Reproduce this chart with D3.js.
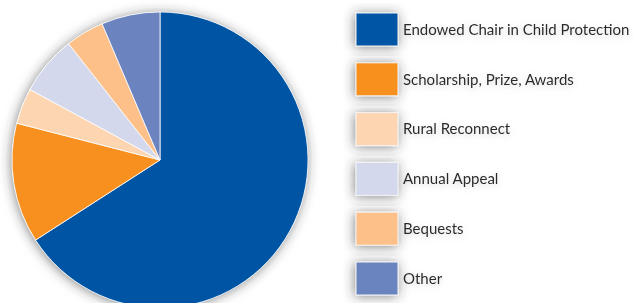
<!DOCTYPE html>
<html>
<head>
<meta charset="utf-8">
<script src="https://cdn.jsdelivr.net/npm/d3@7"></script>
<style>
  body { margin: 0; background: #fff; }
  #chart { width: 634px; height: 303px; }
  .legendLabel { font-family: Lato, "Noto Sans", sans-serif; font-size: 15px; fill: #2b2b2b; }
</style>
</head>
<body>
<div id="chart"></div>
<script>
var categories = ["Endowed Chair in Child Protection", "Scholarship, Prize, Awards", "Rural Reconnect", "Annual Appeal", "Bequests", "Other"];
var values = [65.9, 13.1, 3.9, 6.5, 4.2, 6.4];
var colors = ["#0054a4", "#f7901e", "#fdd5b1", "#d3d8ec", "#fdc088", "#6b84c0"];

var width = 634;
var height = 303;
var radius = 148;

var svg = d3.select("#chart")
    .append("svg")
    .attr("width", width)
    .attr("height", height);

// soft grey shadow used round the pie and the swatches
var defs = svg.append("defs");
var shadow = defs.append("filter")
    .attr("id", "shadow")
    .attr("x", "-30%").attr("y", "-30%")
    .attr("width", "160%").attr("height", "160%");
shadow.append("feDropShadow")
    .attr("dx", -1).attr("dy", 1)
    .attr("stdDeviation", 6)
    .attr("flood-color", "#333")
    .attr("flood-opacity", 0.6);

var textShadow = defs.append("filter")
    .attr("id", "textShadow")
    .attr("x", "-20%").attr("y", "-50%")
    .attr("width", "140%").attr("height", "200%");
textShadow.append("feDropShadow")
    .attr("dx", 0).attr("dy", 2)
    .attr("stdDeviation", 3)
    .attr("flood-color", "#888")
    .attr("flood-opacity", 0.35);

var colorScale = d3.scaleOrdinal()
    .domain(categories)
    .range(colors);

var pie = d3.pie()
    .sort(null)
    .value(function(d, i) { return values[i]; });

var arc = d3.arc()
    .innerRadius(0)
    .outerRadius(radius);

var pieG = svg.append("g")
    .attr("transform", "translate(160,160)");

pieG.append("circle")
    .attr("r", radius)
    .attr("fill", "#fff")
    .attr("filter", "url(#shadow)");

pieG.selectAll("path")
    .data(pie(categories))
    .enter()
    .append("path")
        .attr("d", arc)
        .attr("fill", function(d) { return colorScale(d.data); })
        .attr("stroke", "#fff")
        .attr("stroke-width", 0.8);

// legend
var legendY = d3.scaleBand()
    .domain(categories)
    .range([13, 13 + 6 * 49.8]);

var legend = svg.append("g");

legend.selectAll("rect")
    .data(categories)
    .enter()
    .append("rect")
        .attr("x", 356)
        .attr("y", function(d) { return legendY(d); })
        .attr("width", 42)
        .attr("height", 33)
        .attr("fill", function(d) { return colorScale(d); })
        .attr("stroke", "#f4f4f4")
        .attr("stroke-width", 1)
        .attr("filter", "url(#shadow)");

legend.selectAll("text")
    .data(categories)
    .enter()
    .append("text")
        .attr("class", "legendLabel")
        .attr("x", 403)
        .attr("y", function(d) { return legendY(d) + 16.5; })
        .attr("dy", "0.35em")
        .attr("filter", "url(#textShadow)")
        .text(function(d) { return d; });
</script>
</body>
</html>
